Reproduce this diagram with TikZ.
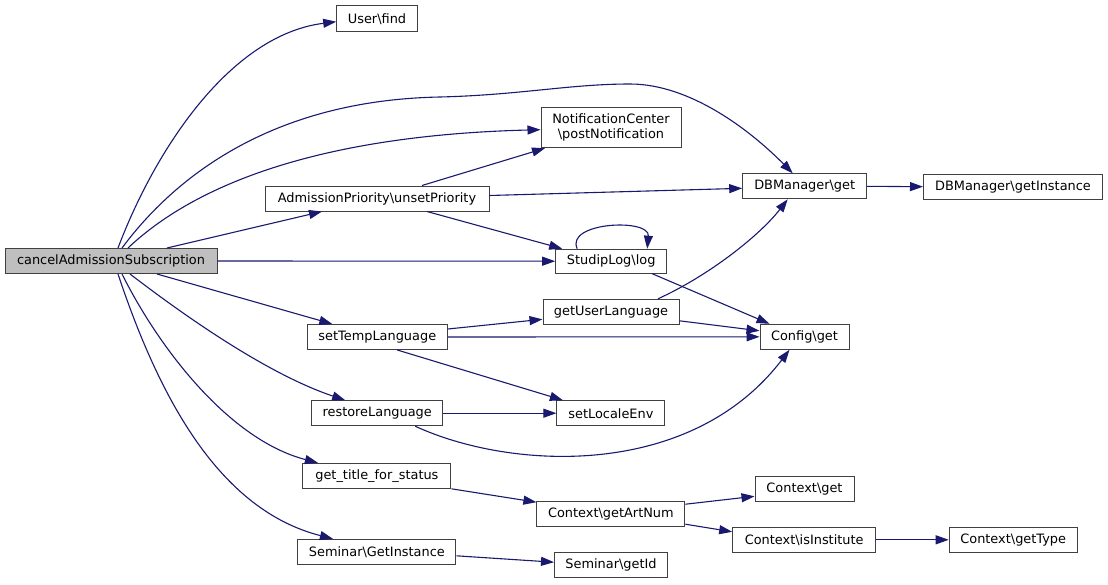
\documentclass[tikz,border=0pt]{standalone}
\usepackage{fontspec}
\setmainfont{DejaVu Sans}
\usetikzlibrary{arrows.meta,calc}
\definecolor{edgeblue}{HTML}{191970}
\definecolor{boxborder}{HTML}{404040}
\definecolor{rootgray}{HTML}{BFBFBF}
\tikzset{
  box/.style={draw=boxborder, line width=1pt, fill=white, inner sep=0pt,
              minimum height=25pt, text=black},
  call/.style={draw=edgeblue, line width=1.1pt,
               -{Triangle[length=13pt,width=9pt]}, color=edgeblue}
}
\begin{document}
\begin{tikzpicture}[x=1pt,y=-1pt,font=\fontsize{12.9}{15}\selectfont]
\fill[white] (0,0) rectangle (1108,584);
\useasboundingbox (0,0) rectangle (1108,584);

\node[box, fill=rootgray, minimum width=212pt] (cancel) at (111,261) {cancelAdmissionSubscription};
\node[box, minimum width=80.6pt, minimum height=26pt] (find) at (377,18.7) {User\textbackslash find};
\node[box, minimum width=140pt, minimum height=40pt, align=center] (notif) at (611,127.7) {NotificationCenter\\\textbackslash postNotification};
\node[box, minimum width=224pt] (prio) at (377,198.5) {AdmissionPriority\textbackslash unsetPriority};
\node[box, minimum width=124pt] (dbget) at (804.7,186.3) {DBManager\textbackslash get};
\node[box, minimum width=179pt] (dbinst) at (1013,186.7) {DBManager\textbackslash getInstance};
\node[box, minimum width=111pt, minimum height=24pt] (log) at (611.2,261.2) {StudipLog\textbackslash log};
\node[box, minimum width=136pt] (gul) at (611,311.8) {getUserLanguage};
\node[box, minimum width=89pt] (cfg) at (804.5,336.8) {Config\textbackslash get};
\node[box, minimum width=140pt] (stl) at (377.3,337) {setTempLanguage};
\node[box, minimum width=131pt] (rl) at (377.2,413.2) {restoreLanguage};
\node[box, minimum width=108pt] (sle) at (610.9,413.2) {setLocaleEnv};
\node[box, minimum width=148pt] (gts) at (376.9,475.8) {get\_title\_for\_status};
\node[box, minimum width=148pt] (gan) at (610.9,514.2) {Context\textbackslash getArtNum};
\node[box, minimum width=99pt] (cget) at (804.5,489.3) {Context\textbackslash get};
\node[box, minimum width=143pt] (cii) at (804.2,539.8) {Context\textbackslash isInstitute};
\node[box, minimum width=128pt] (cgt) at (1013.2,539.8) {Context\textbackslash getType};
\node[box, minimum width=158pt] (sgi) at (376.9,551.8) {Seminar\textbackslash GetInstance};
\node[box, minimum width=113pt] (sid) at (611,565.2) {Seminar\textbackslash getId};

% edges from cancelAdmissionSubscription
\draw[call] ([xshift=7pt]cancel.north) .. controls (155,150) and (230,35) .. ([yshift=-3pt]find.west);
\draw[call] ([xshift=11pt]cancel.north) .. controls (180,170) and (280,100) .. (440,97)
   .. controls (520,95) and (570,84) .. (630,84)
   .. controls (690,84) and (750,130) .. ([xshift=-12pt]dbget.north);
\draw[call] ([xshift=17pt]cancel.north) .. controls (200,180) and (330,135) .. ([yshift=-2pt]notif.west);
\draw[call] ([xshift=56pt]cancel.north) -- ([xshift=-55pt]prio.south);
\draw[call] (cancel.east) -- (log.west);
\draw[call] ([xshift=46pt]cancel.south) -- ([xshift=-45pt]stl.north);
\draw[call] ([xshift=19pt]cancel.south) .. controls (190,320) and (270,375) .. ([xshift=-32pt]rl.north);
\draw[call] ([xshift=11pt]cancel.south) .. controls (160,350) and (230,440) .. ([xshift=-59pt]gts.north);
\draw[call] ([xshift=7pt]cancel.south) .. controls (160,400) and (220,510) .. ([xshift=-44pt]sgi.north);

% AdmissionPriority
\draw[call] ([xshift=45pt]prio.north) -- ([xshift=-66pt]notif.south);
\draw[call] ([yshift=3pt]prio.east) -- ([yshift=-2pt]dbget.west);
\draw[call] ([xshift=50pt]prio.south) -- ([xshift=-49pt]log.north);

% StudipLog
\draw[call] ([xshift=-34pt]log.north) .. controls (565,222) and (650,218) .. ([xshift=36pt]log.north);
\draw[call] ([xshift=41pt]log.south) -- ([xshift=-35pt]cfg.north);

% getUserLanguage
\draw[call] ([xshift=47pt]gul.north) .. controls (710,275) and (760,235) .. ([xshift=-17pt]dbget.south);
\draw[call] ([yshift=-9pt]gul.east) -- ([yshift=6pt]cfg.west);

% setTempLanguage
\draw[call] ([yshift=8pt]stl.east) -- ([yshift=-7.5pt]gul.west);
\draw[call] (stl.east) -- (cfg.west);
\draw[call] ([xshift=20pt]stl.south) -- ([xshift=-48pt]sle.north);

% restoreLanguage
\draw[call] (rl.east) -- (sle.west);
\draw[call] ([xshift=38pt]rl.south) .. controls (510,470) and (690,480) .. ([xshift=-15pt]cfg.south);

% get_title_for_status
\draw[call] (gts.south east) -- ([yshift=-1pt]gan.north west);

% Context
\draw[call] ([yshift=10pt]gan.east) -- ([yshift=-7pt]cget.west);
\draw[call] ([yshift=-10pt]gan.east) -- ([yshift=8pt]cii.west);
\draw[call] (cii.east) -- (cgt.west);

% DBManager
\draw[call] (dbget.east) -- (dbinst.west);

% Seminar
\draw[call] ([yshift=-4pt]sgi.east) -- ([yshift=3pt]sid.west);
\end{tikzpicture}
\end{document}
